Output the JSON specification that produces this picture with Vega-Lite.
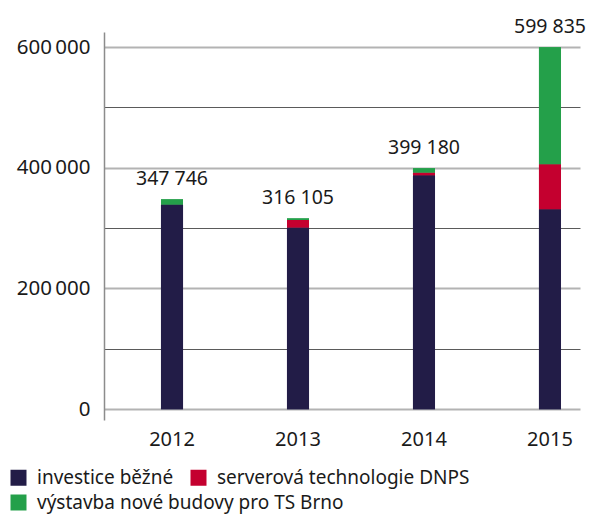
{
  "$schema": "https://vega.github.io/schema/vega-lite/v6.json",
  "autosize": "none",
  "width": 476,
  "height": 388,
  "padding": {"left": 104, "top": 32, "right": 12, "bottom": 95},
  "config": {
    "font": "Noto Sans",
    "view": {"stroke": null},
    "locale": {"number": {"decimal": ",", "thousands": " ", "grouping": [3], "currency": ["", ""]}}
  },
  "datasets": {
    "segments": [
      {"rok": "2012", "kategorie": "investice běžné", "poradi": 1, "hodnota": 339000},
      {"rok": "2012", "kategorie": "serverová technologie DNPS", "poradi": 2, "hodnota": 0},
      {"rok": "2012", "kategorie": "výstavba nové budovy pro TS Brno", "poradi": 3, "hodnota": 8746},
      {"rok": "2013", "kategorie": "investice běžné", "poradi": 1, "hodnota": 301000},
      {"rok": "2013", "kategorie": "serverová technologie DNPS", "poradi": 2, "hodnota": 12500},
      {"rok": "2013", "kategorie": "výstavba nové budovy pro TS Brno", "poradi": 3, "hodnota": 2605},
      {"rok": "2014", "kategorie": "investice běžné", "poradi": 1, "hodnota": 387500},
      {"rok": "2014", "kategorie": "serverová technologie DNPS", "poradi": 2, "hodnota": 4500},
      {"rok": "2014", "kategorie": "výstavba nové budovy pro TS Brno", "poradi": 3, "hodnota": 7180},
      {"rok": "2015", "kategorie": "investice běžné", "poradi": 1, "hodnota": 331200},
      {"rok": "2015", "kategorie": "serverová technologie DNPS", "poradi": 2, "hodnota": 74600},
      {"rok": "2015", "kategorie": "výstavba nové budovy pro TS Brno", "poradi": 3, "hodnota": 194035}
    ],
    "totals": [
      {"rok": "2012", "celkem": 347746},
      {"rok": "2013", "celkem": 316105},
      {"rok": "2014", "celkem": 399180},
      {"rok": "2015", "celkem": 599835}
    ]
  },
  "encoding": {
    "x": {
      "field": "rok",
      "type": "nominal",
      "scale": {"paddingInner": 0.825, "paddingOuter": 0.3015, "align": 0.75},
      "axis": {
        "title": null,
        "domain": false,
        "ticks": false,
        "labelAngle": 0,
        "labelFontSize": 20,
        "labelColor": "#1a1a1a",
        "labelPadding": 9
      }
    }
  },
  "layer": [
    {
      "data": {"name": "segments"},
      "mark": {"type": "bar"},
      "encoding": {
        "y": {
          "field": "hodnota",
          "type": "quantitative",
          "stack": "zero",
          "scale": {"domain": [-18000, 625000], "nice": false, "zero": false},
          "axis": {
            "title": null,
            "values": [0, 100000, 200000, 300000, 400000, 500000, 600000],
            "labelExpr": "datum.value === 0 ? '0' : (datum.value % 200000 === 0 ? format(datum.value / 1000, 'd') + '\u2009000' : '')",
            "labelFontSize": 20.5,
            "labelColor": "#1a1a1a",
            "labelPadding": 14,
            "ticks": false,
            "domain": true,
            "domainColor": "#8c8c8c",
            "domainWidth": 1.5,
            "grid": true,
            "gridColor": {"condition": {"test": "datum.value % 200000 === 0", "value": "#b3b3b3"}, "value": "#5a5a5a"},
            "gridWidth": {"condition": {"test": "datum.value % 200000 === 0", "value": 2}, "value": 1}
          }
        },
        "order": {"field": "poradi", "type": "quantitative"},
        "color": {
          "field": "kategorie",
          "type": "nominal",
          "scale": {
            "domain": ["investice běžné", "serverová technologie DNPS", "výstavba nové budovy pro TS Brno"],
            "range": ["#221c47", "#c4002f", "#24a04a"]
          },
          "legend": {
            "title": null,
            "orient": "none",
            "legendX": -95,
            "legendY": 436,
            "direction": "horizontal",
            "values": ["investice běžné", "serverová technologie DNPS"],
            "columnPadding": 15,
            "symbolType": "square",
            "symbolSize": 256,
            "symbolStrokeWidth": 0,
            "symbolOpacity": 1,
            "labelFontSize": 19,
            "labelColor": "#1a1a1a",
            "labelOffset": 9,
            "labelLimit": 400
          }
        }
      }
    },
    {
      "data": {"name": "segments"},
      "mark": {"type": "bar"},
      "encoding": {
        "y": {
          "field": "hodnota",
          "type": "quantitative",
          "stack": "zero"
        },
        "order": {"field": "poradi", "type": "quantitative"},
        "fill": {
          "field": "kategorie",
          "type": "nominal",
          "scale": {
            "domain": ["výstavba nové budovy pro TS Brno", "investice běžné", "serverová technologie DNPS"],
            "range": ["#24a04a", "#221c47", "#c4002f"]
          },
          "legend": {
            "title": null,
            "orient": "none",
            "legendX": -95,
            "legendY": 461,
            "direction": "horizontal",
            "values": ["výstavba nové budovy pro TS Brno"],
            "symbolType": "square",
            "symbolSize": 256,
            "symbolStrokeWidth": 0,
            "symbolOpacity": 1,
            "labelFontSize": 19,
            "labelColor": "#1a1a1a",
            "labelOffset": 9,
            "labelLimit": 400
          }
        }
      }
    },
    {
      "data": {"name": "totals"},
      "mark": {"type": "text", "fontSize": 19.5, "dy": -14, "baseline": "alphabetic", "color": "#1a1a1a"},
      "encoding": {
        "y": {"field": "celkem", "type": "quantitative"},
        "text": {"field": "celkem", "type": "quantitative", "format": ",d"}
      }
    }
  ]
}
